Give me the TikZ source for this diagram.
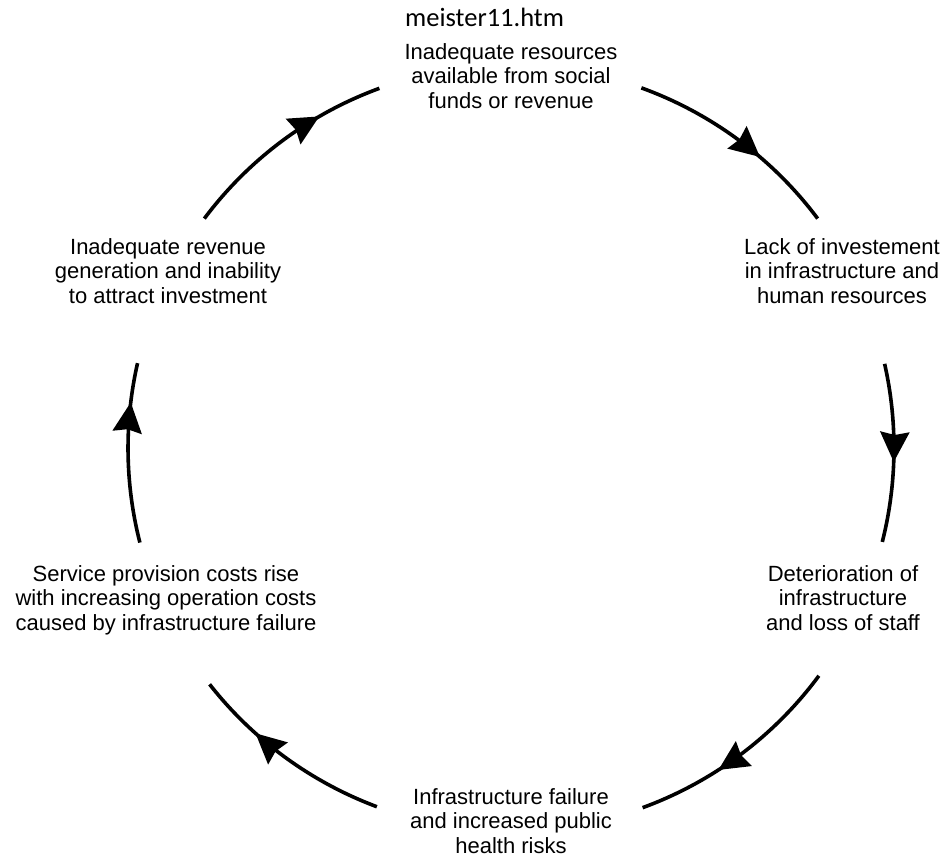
\documentclass[tikz,border=0pt]{standalone}
\usepackage{fontspec}
\setmainfont{Liberation Sans}
\newfontfamily\calib{Carlito}
\usetikzlibrary{arrows.meta,decorations.markings}
\tikzset{
  lbl/.style={align=center,inner sep=0pt,anchor=north,font=\fontsize{22}{24.5}\selectfont},
  cyc/.style={line width=3.6pt},
  tipat/.style={postaction={decorate},decoration={markings,
     mark=at position #1 with {\arrow{Stealth[length=30pt,width=29pt,inset=3pt]}}}}
}
\begin{document}
\begin{tikzpicture}[x=1pt,y=1pt]
\useasboundingbox[fill=white] (0,0) rectangle (946,-864);
\coordinate (O) at (511,-448);
% labels
\node[inner sep=0pt,anchor=base west,font=\calib\fontsize{26.5}{30}\selectfont] (url) at (405,-27) {meister11.htm};
\node[lbl] (n1) at (511,-43) {Inadequate resources\\available from social\\funds or revenue};
\node[lbl] (n2) at (842,-238) {Lack of investement\\in infrastructure and\\human resources};
\node[lbl] (n3) at (843,-565) {Deterioration of\\infrastructure\\and loss of staff};
\node[lbl] (n4) at (511,-788) {Infrastructure failure\\and increased public\\health risks};
\node[lbl] (n5) at (166,-565) {Service provision costs rise\\with increasing operation costs\\caused by infrastructure failure};
\node[lbl] (n6) at (168,-238) {Inadequate revenue\\generation and inability\\to attract investment};
% cycle arcs
\draw[cyc,tipat=0.62] ([shift={(70.1:383pt)}]O) arc[start angle=70.1,end angle=36.8,radius=383pt];
\draw[cyc,tipat=0.55] ([shift={(12.7:383pt)}]O) arc[start angle=12.7,end angle=-14.2,radius=383pt];
\draw[cyc,tipat=0.62] ([shift={(-36.5:383pt)}]O) arc[start angle=-36.5,end angle=-69.9,radius=383pt];
\draw[cyc,tipat=0.68] ([shift={(249.5:383pt)}]O) arc[start angle=249.5,end angle=218.1,radius=383pt];
\draw[cyc,tipat=0.78] ([shift={(194.3:383pt)}]O) arc[start angle=194.3,end angle=167.2,radius=383pt];
\draw[cyc,tipat=0.70] ([shift={(143.2:383pt)}]O) arc[start angle=143.2,end angle=110.1,radius=383pt];
\end{tikzpicture}
\end{document}
